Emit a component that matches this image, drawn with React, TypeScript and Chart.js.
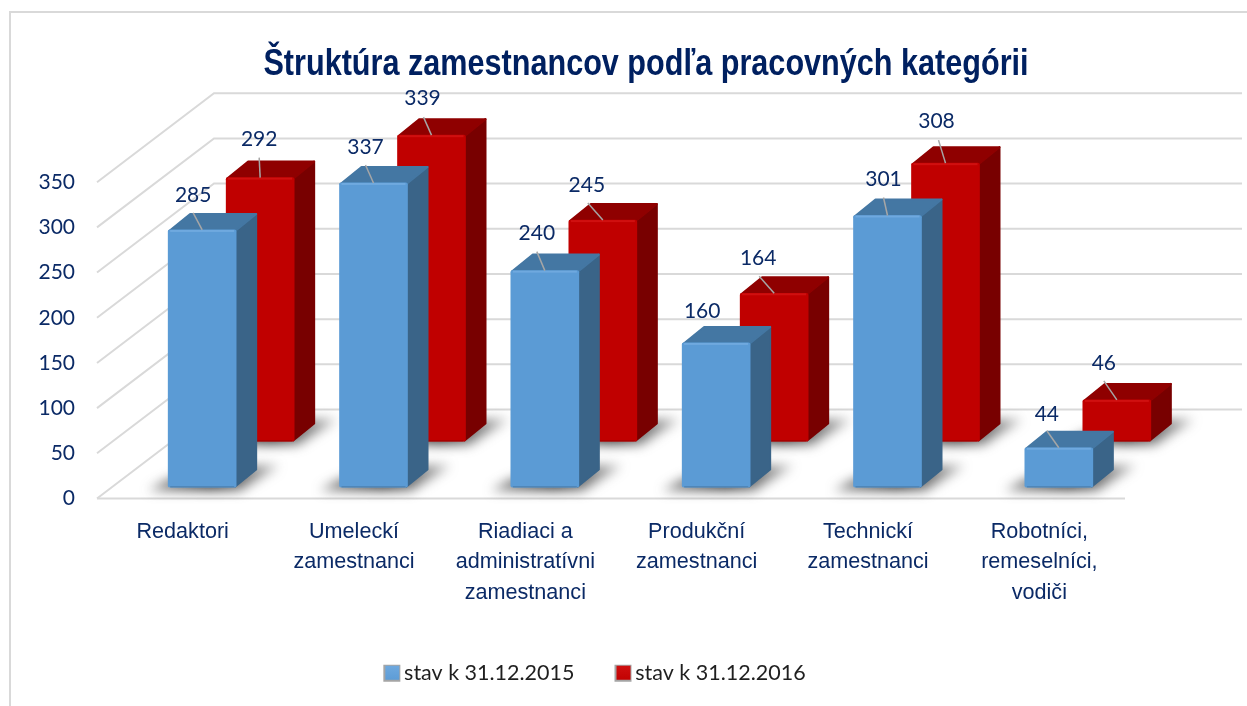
import React, { useEffect, useRef } from "react";
import { Chart, registerables } from "chart.js";

Chart.register(...registerables);

const categories: any[] = [
  "Redaktori",
  ["Umeleckí", "zamestnanci"],
  ["Riadiaci a", "administratívni", "zamestnanci"],
  ["Produkční", "zamestnanci"],
  ["Technickí", "zamestnanci"],
  ["Robotníci,", "remeselníci,", "vodiči"],
];
const values2015 = [285, 337, 240, 160, 301, 44];
const values2016 = [292, 339, 245, 164, 308, 46];
const seriesNames = ["stav k 31.12.2015", "stav k 31.12.2016"];
const yTicks = [0, 50, 100, 150, 200, 250, 300, 350];
const titleText = "Štruktúra zamestnancov podľa pracovných kategórii";

const NAVY = "#0b2a66";
const GRID = "#d9d9d9";
const WALL_DX = 117;
const WALL_DY = -89;
const DEPTH_DX = 21;
const DEPTH_DY = -17;
const seriesOffsets = [
  { dx: 19.5, dy: -11 },
  { dx: 77.5, dy: -57 },
];
const seriesStyles = [
  { front: "#5b9bd5", light: "#6fa9df", top: "#4477a3", side: "#3a6488", edge: "#4f86b8" },
  { front: "#c00000", light: "#d01010", top: "#8f0000", side: "#780000", edge: "#a80000" },
];
// label placement relative to the front-top centre of each bar: [label dx, label dy, leader start dx, leader start dy]
const labelPlacement = [
  [[-9, -35, -9, -17], [-8, -36, -8, -18], [-8, -37, -8, -19], [-14, -32, 0, 0], [-4, -36, -4, -18], [-12, -34, -12, -17]],
  [[-1, -38, -1, -20], [-9, -37, -8, -18], [-16, -35, -15, -17], [-16, -35, -15, -17], [-9, -42, -7, -23], [-13, -37, -13, -19]],
];

const threeD = {
  id: "threeD",
  afterLayout(chart: any) {
    const tb = chart.titleBlock;
    if (tb && !tb.__wrapped) {
      tb.__wrapped = true;
      const orig = tb.draw.bind(tb);
      tb.draw = () => {
        const c = chart.ctx;
        c.save();
        c.translate(646, 0);
        c.scale(0.85, 1);
        c.translate(-(tb.left + tb.right) / 2, 0);
        orig();
        c.restore();
      };
    }
    if (chart.legend) {
      chart.legend.left += 32;
      chart.legend.right += 32;
    }
  },
  beforeDatasetsDraw(chart: any) {
    const { ctx, chartArea, scales } = chart;
    const y = scales.y;
    ctx.save();
    ctx.strokeStyle = GRID;
    ctx.lineWidth = 2;
    for (const v of yTicks) {
      const py = y.getPixelForValue(v);
      ctx.beginPath();
      ctx.moveTo(chartArea.left, py);
      ctx.lineTo(chartArea.left + WALL_DX, py + WALL_DY);
      ctx.lineTo(chartArea.right + WALL_DX, py + WALL_DY);
      ctx.stroke();
    }
    ctx.beginPath();
    ctx.moveTo(chartArea.left, chartArea.bottom);
    ctx.lineTo(chartArea.right, chartArea.bottom);
    ctx.stroke();
    ctx.restore();
  },
  beforeDatasetDraw(chart: any, args: any) {
    const { ctx } = chart;
    const i = args.index;
    const off = seriesOffsets[i];
    const st = seriesStyles[i];
    const bars = chart.getDatasetMeta(i).data;
    ctx.save();
    ctx.translate(off.dx, off.dy);
    for (const b of bars) {
      const x0 = b.x - b.width / 2;
      const x1 = b.x + b.width / 2;
      const top = b.y;
      const bot = b.base;
      // floor shadow
      ctx.save();
      ctx.filter = "blur(6px)";
      const g = ctx.createLinearGradient(x0 - 24, 0, x1 + DEPTH_DX + 22, 0);
      g.addColorStop(0, "rgba(60,60,60,0.55)");
      g.addColorStop(0.5, "rgba(50,50,50,0.95)");
      g.addColorStop(1, "rgba(90,90,90,0.45)");
      ctx.fillStyle = g;
      ctx.beginPath();
      ctx.moveTo(x0 - 20, bot + 3);
      ctx.lineTo(x1 + 4, bot + 3);
      ctx.lineTo(x1 + DEPTH_DX + 22, bot + DEPTH_DY - 5);
      ctx.lineTo(x1, bot + DEPTH_DY - 5);
      ctx.lineTo(x0, bot - 8);
      ctx.closePath();
      ctx.fill();
      ctx.restore();
      ctx.lineJoin = "round";
      ctx.lineWidth = 2;
      // side face
      ctx.fillStyle = st.side;
      ctx.strokeStyle = st.side;
      ctx.beginPath();
      ctx.moveTo(x1 - 1, top + 1);
      ctx.lineTo(x1 + DEPTH_DX - 1, top + DEPTH_DY + 1);
      ctx.lineTo(x1 + DEPTH_DX - 1, bot + DEPTH_DY - 1);
      ctx.lineTo(x1 - 1, bot - 1);
      ctx.closePath();
      ctx.fill();
      ctx.stroke();
      // top face
      ctx.fillStyle = st.top;
      ctx.strokeStyle = st.top;
      ctx.beginPath();
      ctx.moveTo(x0 + 1, top + 1);
      ctx.lineTo(x0 + DEPTH_DX + 1, top + DEPTH_DY + 1);
      ctx.lineTo(x1 + DEPTH_DX - 1, top + DEPTH_DY + 1);
      ctx.lineTo(x1 - 1, top + 1);
      ctx.closePath();
      ctx.fill();
      ctx.stroke();
    }
  },
  afterDatasetDraw(chart: any, args: any) {
    const { ctx } = chart;
    const i = args.index;
    const st = seriesStyles[i];
    const bars = chart.getDatasetMeta(i).data;
    for (const b of bars) {
      const x0 = b.x - b.width / 2;
      ctx.fillStyle = st.light;
      ctx.fillRect(x0 + 2, b.y, b.width - 4, 2);
      ctx.fillStyle = st.edge;
      ctx.fillRect(x0 + 2, b.base - 1.5, b.width - 4, 1.5);
    }
    ctx.restore();
  },
  afterDatasetsDraw(chart: any) {
    const { ctx } = chart;
    ctx.save();
    ctx.font = "21px Lato";
    ctx.textAlign = "center";
    ctx.textBaseline = "middle";
    [1, 0].forEach((i) => {
      const off = seriesOffsets[i];
      const ds = chart.data.datasets[i];
      chart.getDatasetMeta(i).data.forEach((b: any, k: number) => {
        const cx = b.x + off.dx;
        const cy = b.y + off.dy;
        const p = labelPlacement[i][k];
        if (p[2] !== 0 || p[3] !== 0) {
          ctx.strokeStyle = "#a6a6a6";
          ctx.lineWidth = 1.5;
          ctx.beginPath();
          ctx.moveTo(cx + p[2], cy + p[3]);
          ctx.lineTo(cx, cy);
          ctx.stroke();
        }
        ctx.fillStyle = NAVY;
        ctx.fillText(String(ds.data[k]), cx + p[0], cy + p[1]);
      });
    });
    ctx.restore();
  },
  afterDraw(chart: any) {
    const { ctx } = chart;
    const boxes = chart.legend?.legendHitBoxes || [];
    ctx.save();
    boxes.forEach((h: any, i: number) => {
      const cy = h.top + h.height / 2;
      const s = 17;
      const gx = h.left;
      ctx.fillStyle = "#a5a5a5";
      ctx.fillRect(gx, cy - s / 2, s, s);
      const g = ctx.createLinearGradient(0, cy - s / 2, 0, cy + s / 2);
      g.addColorStop(0, seriesStyles[i].light);
      g.addColorStop(1, seriesStyles[i].front);
      ctx.fillStyle = g;
      ctx.fillRect(gx + 2, cy - s / 2 + 1, s - 3, s - 3);
    });
    ctx.restore();
  },
};

export default function App() {
  const ref = useRef<HTMLCanvasElement>(null);
  useEffect(() => {
    const chart = new Chart(ref.current as HTMLCanvasElement, {
      type: "bar",
      plugins: [threeD as any],
      data: {
        labels: categories,
        datasets: [
          { label: seriesNames[0], data: values2015, backgroundColor: seriesStyles[0].front, grouped: false, barThickness: 68, borderRadius: 2, borderSkipped: false } as any,
          { label: seriesNames[1], data: values2016, backgroundColor: seriesStyles[1].front, grouped: false, barThickness: 68, borderRadius: 2, borderSkipped: false } as any,
        ],
      },
      options: {
        responsive: false,
        animation: false,
        layout: { padding: { left: 0, right: 122, top: 0, bottom: 12 } },
        scales: {
          x: {
            grid: { display: false },
            border: { display: false },
            afterFit: (s: any) => {
              s.height = 124;
            },
            ticks: {
              autoSkip: false,
              maxRotation: 0,
              minRotation: 0,
              padding: 11,
              color: NAVY,
              font: { family: "'Liberation Sans'", size: 21.6, lineHeight: 1.39 },
            },
          },
          y: {
            min: 0,
            max: 350,
            grid: { display: false },
            border: { display: false },
            afterFit: (s: any) => {
              s.width = 97;
            },
            ticks: {
              stepSize: 50,
              padding: 14,
              color: NAVY,
              font: { family: "Lato", size: 21 },
            },
          },
        },
        plugins: {
          title: {
            display: true,
            text: titleText,
            color: "#002060",
            font: { family: "'Liberation Sans'", size: 36, weight: "bold" },
            padding: { top: 43, bottom: 96 },
          },
          legend: {
            display: true,
            position: "bottom",
            labels: {
              boxWidth: 10,
              boxHeight: 8,
              padding: 40,
              color: "#1f1f1f",
              font: { family: "Lato", size: 21.5 },
              generateLabels: (chart: any) =>
                chart.data.datasets.map((d: any, i: number) => ({
                  text: d.label,
                  fillStyle: "rgba(0,0,0,0)",
                  strokeStyle: "rgba(0,0,0,0)",
                  lineWidth: 0,
                  hidden: false,
                  datasetIndex: i,
                  fontColor: "#1f1f1f",
                })),
            },
          },
          tooltip: { enabled: false },
        },
      } as any,
    });
    return () => chart.destroy();
  }, []);
  return (
    <div style={{ position: "absolute", left: 0, top: 0, width: 1247, height: 706, background: "#fff" }}>
      <div style={{ position: "absolute", left: 9, top: 11, width: 1260, height: 720, boxSizing: "border-box", border: "2px solid #d9d9d9", clipPath: "inset(0 22px 25px 0)" }} />
      <canvas ref={ref} width={1247} height={706} style={{ position: "absolute", left: 0, top: 0, display: "block" }} />
    </div>
  );
}
